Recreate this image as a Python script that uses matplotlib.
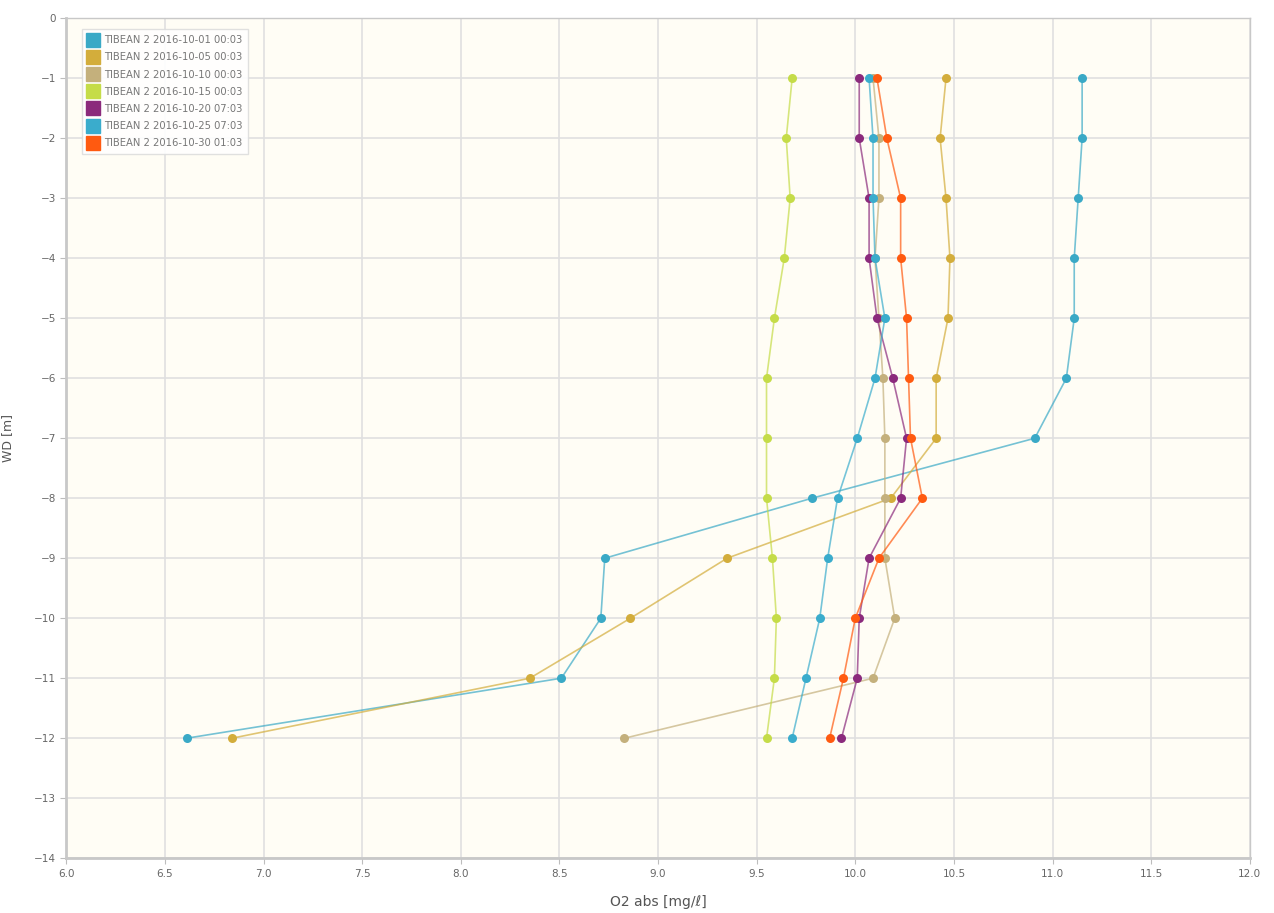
import numpy as np
import matplotlib
matplotlib.use("Agg")
import matplotlib.pyplot as plt
from matplotlib.lines import Line2D

# === data ===
depth = [-1, -2, -3, -4, -5, -6, -7, -8, -9, -10, -11, -12]

labels = [
    "TIBEAN 2 2016-10-01 00:03",
    "TIBEAN 2 2016-10-05 00:03",
    "TIBEAN 2 2016-10-10 00:03",
    "TIBEAN 2 2016-10-15 00:03",
    "TIBEAN 2 2016-10-20 07:03",
    "TIBEAN 2 2016-10-25 07:03",
    "TIBEAN 2 2016-10-30 01:03",
]

o2_1001 = [11.15, 11.15, 11.13, 11.11, 11.11, 11.07, 10.91, 9.78, 8.73, 8.71, 8.51, 6.61]
o2_1005 = [10.46, 10.43, 10.46, 10.48, 10.47, 10.41, 10.41, 10.18, 9.35, 8.86, 8.35, 6.84]
o2_1010 = [10.09, 10.12, 10.12, 10.10, 10.12, 10.14, 10.15, 10.15, 10.15, 10.20, 10.09, 8.83]
o2_1015 = [9.68, 9.65, 9.67, 9.64, 9.59, 9.55, 9.55, 9.55, 9.58, 9.60, 9.59, 9.55]
o2_1020 = [10.02, 10.02, 10.07, 10.07, 10.11, 10.19, 10.26, 10.23, 10.07, 10.02, 10.01, 9.93]
o2_1025 = [10.07, 10.09, 10.09, 10.10, 10.15, 10.10, 10.01, 9.91, 9.86, 9.82, 9.75, 9.68]
o2_1030 = [10.11, 10.16, 10.23, 10.23, 10.26, 10.27, 10.28, 10.34, 10.12, 10.00, 9.94, 9.87]

series = [o2_1001, o2_1005, o2_1010, o2_1015, o2_1020, o2_1025, o2_1030]
colors = ["#3aa9c6", "#d3ad3b", "#c4b07c", "#c5dc48", "#8b2a7c", "#3aaccc", "#ff5a10"]

# === plot ===
fig = plt.figure(figsize=(12.74, 9.13), dpi=100)
ax = fig.add_axes([0.052, 0.060, 0.929, 0.920])
ax.set_facecolor("#fffdf5")

for vals, col in zip(series, colors):
    # lines are paler than the dots in the reference
    ax.plot(vals, depth, color=col, lw=1.2, alpha=0.7)
    ax.plot(vals, depth, color=col, lw=0, marker="o", markersize=6.5,
            markeredgewidth=0)

ax.set_xlim(6.0, 12.0)
ax.set_ylim(-14, 0)
ax.set_xticks(np.arange(6.0, 12.01, 0.5))
ax.set_xticklabels([f"{v:.1f}" for v in np.arange(6.0, 12.01, 0.5)])
ax.set_yticks(range(-14, 1))
ax.grid(True, color="#e0e0e0", lw=1.2)
ax.set_axisbelow(True)

for s in ax.spines.values():
    s.set_color("#c8c8c8")
    s.set_linewidth(1.0)
ax.spines["left"].set_linewidth(2.0)
ax.spines["bottom"].set_linewidth(2.0)

ax.tick_params(colors="#bdbdbd", labelcolor="#666666", labelsize=7.5, length=4)
ax.set_xlabel("O2 abs [mg/\u2113]", color="#555555", fontsize=10, labelpad=12)
ax.set_ylabel("WD [m]", color="#555555", fontsize=9, labelpad=14)

handles = [Line2D([], [], color=c, marker="s", linestyle="", markersize=10.5)
           for c in colors]
leg = ax.legend(handles, labels, loc="upper left", bbox_to_anchor=(0.009, 0.993),
                fontsize=7.2, frameon=True, handlelength=1.0,
                handletextpad=0.6, labelspacing=0.72, borderpad=0.6)
for t in leg.get_texts():
    t.set_color("#777777")
leg.get_frame().set_facecolor("#ffffff")
leg.get_frame().set_edgecolor("#dddddd")
leg.get_frame().set_alpha(0.9)
leg.get_frame().set_boxstyle("square", pad=0.0)

plt.savefig("out.png", dpi=100, facecolor="white")
